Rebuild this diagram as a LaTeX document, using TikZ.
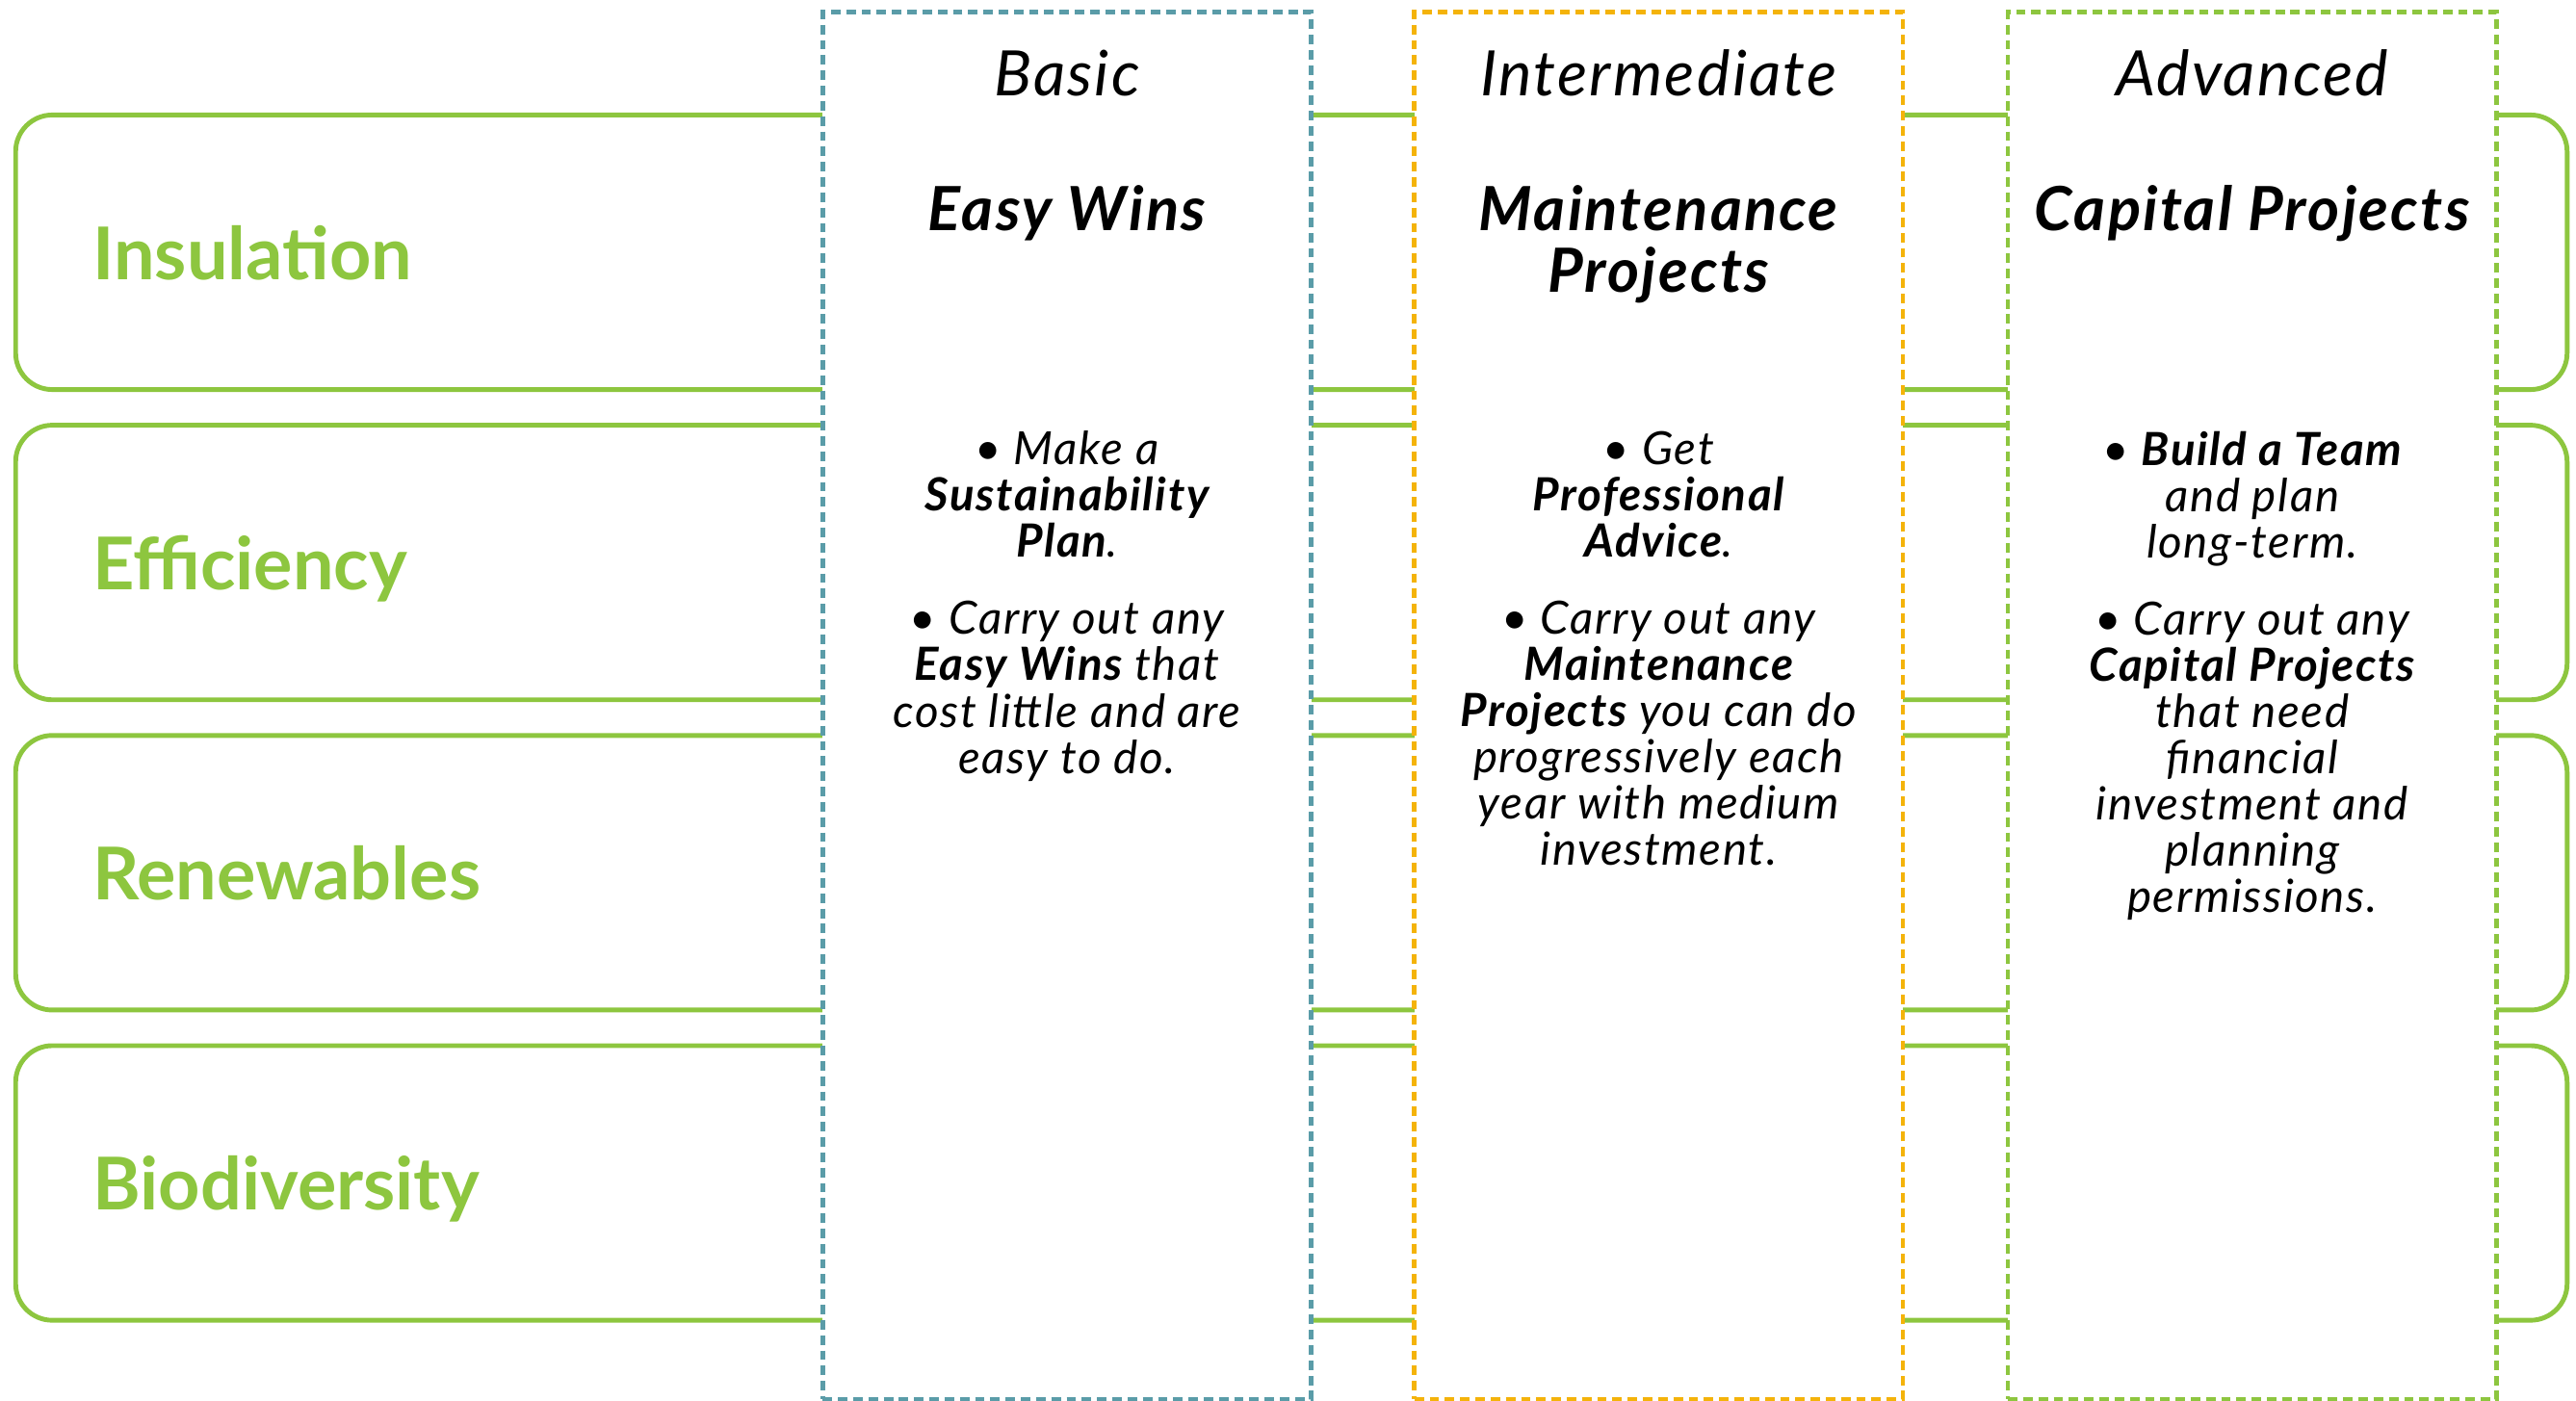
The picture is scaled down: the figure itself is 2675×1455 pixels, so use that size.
\documentclass[tikz,border=0pt]{standalone}
\usepackage{fontspec}
\setmainfont{Lato}[LetterSpace=3.5]
\newfontfamily\bandfont{Lato}
\usetikzlibrary{positioning}

\definecolor{leaf}{HTML}{8DC63F}
\definecolor{teal}{HTML}{5A9CA8}
\definecolor{amber}{HTML}{F4B30A}

\begin{document}
\begin{tikzpicture}[x=0.01cm, y=-0.01cm,
    every node/.style={inner sep=0pt, outer sep=0pt},
    band/.style={draw=leaf, line width=1.4pt, rounded corners=0.38cm,
                 minimum width=26.48cm, minimum height=2.85cm},
    bandlbl/.style={text=leaf, anchor=base west,
                    font=\bandfont\fontsize{21.5}{24}\selectfont\bfseries},
    tier/.style={draw=#1, fill=white, line width=1.3pt,
                 dash pattern=on 2.8pt off 1.7pt,
                 minimum width=5.07cm, minimum height=14.40cm},
    tierhead/.style={font=\fontsize{18.5}{20}\selectfont\itshape},
    tiertitle/.style={align=center,
                      font=\fontsize{18}{18.2}\selectfont\bfseries\itshape},
    tierbody/.style={align=center,
                     font=\fontsize{13.5}{13.66}\selectfont\itshape},
  ]
    \useasboundingbox (0,0) rectangle (2675,1455);

    % topic bands behind the columns
    \node[band] (ins) at (1341,262) {};
    \node[band, below=0.37cm of ins] (eff) {};
    \node[band, below=0.37cm of eff] (ren) {};
    \node[band, below=0.37cm of ren] (bio) {};

    \node[bandlbl] at ([xshift=0.8cm, yshift=-0.28cm]ins.west) {Insulation};
    \node[bandlbl] at ([xshift=0.8cm, yshift=-0.28cm]eff.west) {Efficiency};
    \node[bandlbl] at ([xshift=0.8cm, yshift=-0.28cm]ren.west) {Renewables};
    \node[bandlbl] at ([xshift=0.8cm, yshift=-0.28cm]bio.west) {Biodiversity};

    % level columns
    \node[tier=teal] (basic) at (1108,733) {};
    \node[tier=amber, right=1.07cm of basic] (inter) {};
    \node[tier=leaf, right=1.09cm of inter] (adv) {};

    \node[tierhead, below=0.39cm of basic.north] (basichd) {Basic};
    \node[tierhead, below=0.39cm of inter.north] (interhd) {Intermediate};
    \node[tierhead, below=0.39cm of adv.north] (advhd) {Advanced};

    \node[tiertitle, below=1.80cm of basic.north] (basictl) {Easy Wins};
    \node[tiertitle, below=1.80cm of inter.north] (intertl)
      {Maintenance\\ Projects};
    \node[tiertitle, below=1.80cm of adv.north] (advtl) {Capital Projects};

    \node[tierbody, below=4.35cm of basic.north] (basictx)
      {•~Make a\\ \textbf{Sustainability}\\ \textbf{Plan}.\\[0.32cm]
       •~Carry out any\\ \textbf{Easy Wins} that\\ cost little and are\\
       easy to do.};
    \node[tierbody, below=4.35cm of inter.north] (intertx)
      {•~Get\\ \textbf{Professional}\\ \textbf{Advice}.\\[0.32cm]
       •~Carry out any\\ \textbf{Maintenance}\\ \textbf{Projects} you can do\\
       progressively each\\ year with medium\\ investment.};
    \node[tierbody, below=4.35cm of adv.north] (advtx)
      {•~\textbf{Build a Team}\\ and plan\\ long-term.\\[0.32cm]
       •~Carry out any\\ \textbf{Capital Projects}\\ that need\\ financial\\
       investment and\\ planning\\ permissions.};
  \end{tikzpicture}
\end{document}
